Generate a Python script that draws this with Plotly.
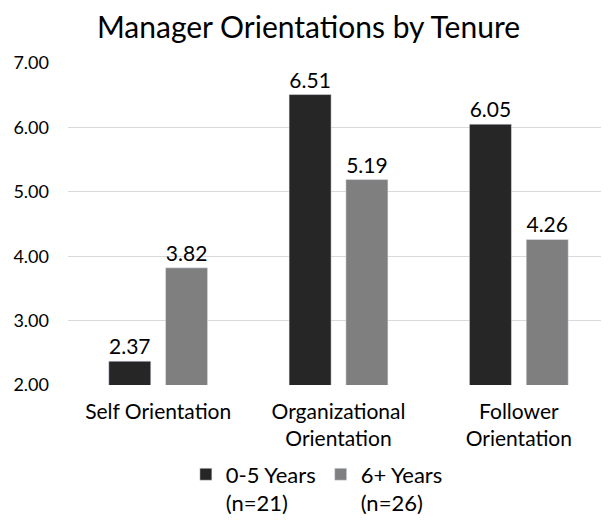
import plotly.graph_objects as go

categories = ["Self Orientation", "Organizational<br>Orientation", "Follower<br>Orientation"]
years_0_5 = [2.37, 6.51, 6.05]
years_6_plus = [3.82, 5.19, 4.26]
series_names = ["0-5 Years<br>(n=21)", "6+ Years<br>(n=26)"]

FONT = "Lato, Open Sans, sans-serif"

# page body adds an 8px offset, so the figure is 8px smaller than the window
fig = go.Figure()
fig.add_bar(x=categories, y=years_0_5, name=series_names[0],
            marker_color="#262626", text=[f"{v:.2f}" for v in years_0_5],
            textposition="outside", textfont=dict(size=21, color="#000"),
            cliponaxis=False)
fig.add_bar(x=categories, y=years_6_plus, name=series_names[1],
            marker_color="#7f7f7f", text=[f"{v:.2f}" for v in years_6_plus],
            textposition="outside", textfont=dict(size=21, color="#000"),
            cliponaxis=False)

fig.update_layout(
    width=601, height=512,
    margin=dict(l=60, r=0, t=55, b=135, autoexpand=False),
    title=dict(text="Manager Orientations by Tenure", x=0.5, xanchor="center",
               yref="container", y=0.962, yanchor="middle",
               font=dict(size=30, color="#000", family=FONT)),
    font=dict(family=FONT, color="#000"),
    barmode="group", bargap=0.37, bargroupgap=0.26,
    plot_bgcolor="white", paper_bgcolor="white",
    showlegend=True,
    legend=dict(orientation="h", x=0.46, xanchor="center", yref="container",
                y=0.13, yanchor="top", font=dict(size=22), itemwidth=30,
                valign="top"),
    yaxis=dict(range=[2, 7], dtick=1, tickformat=".2f", showgrid=True,
               gridcolor="#d9d9d9", zeroline=False, ticks="", automargin=False,
               tickfont=dict(size=18), ticklabelstandoff=18),
    xaxis=dict(showline=False, tickfont=dict(size=21), ticks="", automargin=False,
               ticklabelstandoff=12),
)

fig.write_html("out.html")
